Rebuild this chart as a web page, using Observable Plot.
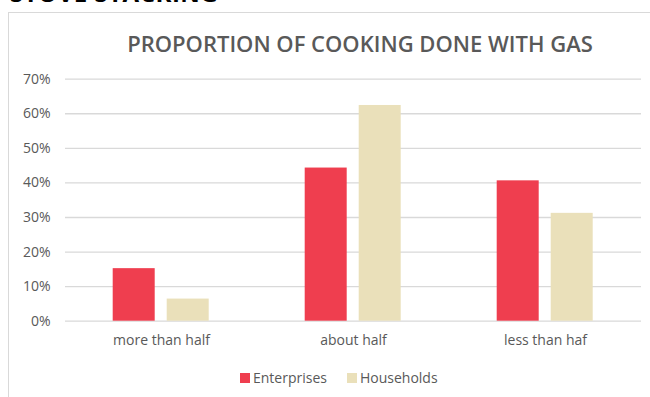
<!DOCTYPE html>
<html>
<head>
<meta charset="utf-8">
<script src="https://cdn.jsdelivr.net/npm/d3@7"></script>
<script src="https://cdn.jsdelivr.net/npm/@observablehq/plot@0.6"></script>
<style>
  html, body { margin: 0; padding: 0; background: #fff; }
  body { width: 650px; height: 397px; position: relative; overflow: hidden; font-family: "Open Sans", sans-serif; }
  #heading { position: absolute; left: 10px; top: -19px; font: 700 24px/24px "Open Sans", sans-serif; color: #000; white-space: nowrap; letter-spacing: 0.5px; }
  #frame { position: absolute; left: 8px; top: 12px; width: 700px; height: 420px; border-left: 1px solid #d9d9d9; border-top: 1px solid #d9d9d9; }
  #title { position: absolute; left: 0; top: 32px; width: 720px; text-align: center; font: 600 22px/22px "Open Sans", sans-serif; color: #595959; white-space: nowrap; }
  #chart { position: absolute; left: 0; top: 0; }
  #legend { position: absolute; left: 240px; top: 369px; display: flex; align-items: center; font: 14px/18px "Open Sans", sans-serif; color: #595959; white-space: nowrap; }
  .sw { width: 10px; height: 10px; display: inline-block; margin-right: 3px; }
  .item { display: flex; align-items: center; margin-right: 20px; }
</style>
</head>
<body>
<div id="heading">STOVE STACKING</div>
<div id="frame"></div>
<div id="chart"></div>
<div id="title">PROPORTION OF COOKING DONE WITH GAS</div>
<div id="legend"></div>
<script>
const categories = ["more than half", "about half", "less than haf"];
const series = ["Enterprises", "Households"];
const enterprises = [0.152, 0.443, 0.406];
const households = [0.064, 0.624, 0.312];
const colors = ["#EF3E4F", "#EAE0BA"];
const yTicks = [0, 0.1, 0.2, 0.3, 0.4, 0.5, 0.6, 0.7];
const yTickLabels = ["0%", "10%", "20%", "30%", "40%", "50%", "60%", "70%"];

const data = categories.flatMap((c, i) => [
  {category: c, series: series[0], value: enterprises[i]},
  {category: c, series: series[1], value: households[i]}
]);

const chart = Plot.plot({
  width: 650,
  height: 360,
  marginLeft: 63.3,
  marginRight: 8.3,
  marginTop: 78.7,
  marginBottom: 39.3,
  style: {fontFamily: "Open Sans", fontSize: "14px", color: "#595959", background: "transparent"},
  fx: {domain: categories, padding: 0, label: null},
  x: {domain: series, paddingInner: 0.218, paddingOuter: 0.862, axis: null},
  y: {domain: [0, 0.7], label: null},
  color: {domain: series, range: colors},
  marks: [
    Plot.gridY(yTicks, {stroke: "#d9d9d9", strokeOpacity: 1, strokeWidth: 1.3}),
    Plot.axisY(yTicks, {tickFormat: (d) => yTickLabels[yTicks.indexOf(d)], tickSize: 0, tickPadding: 15, fontSize: 14, label: null}),
    Plot.axisFx({anchor: "bottom", tickSize: 0, tickPadding: 14, fontSize: 14, label: null}),
    Plot.barY(data, {fx: "category", x: "series", y: "value", fill: "series"})
  ]
});
document.getElementById("chart").appendChild(chart);

const legend = document.getElementById("legend");
series.forEach((s, i) => {
  const item = document.createElement("span");
  item.className = "item";
  const sw = document.createElement("span");
  sw.className = "sw";
  sw.style.background = colors[i];
  item.appendChild(sw);
  item.appendChild(document.createTextNode(s));
  legend.appendChild(item);
});
</script>
</body>
</html>
